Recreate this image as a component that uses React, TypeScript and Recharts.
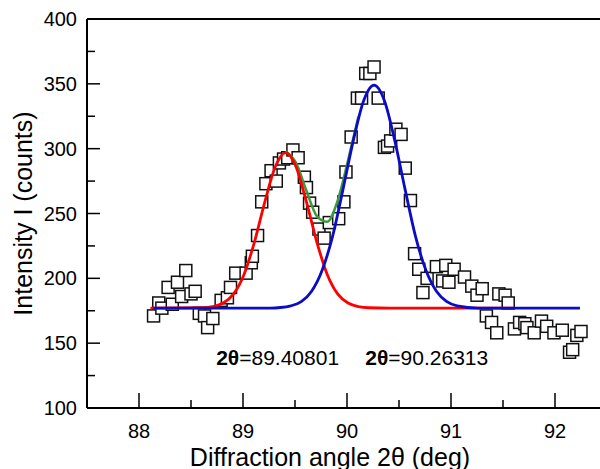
import React from 'react';
import { ComposedChart, Scatter, Line, XAxis, YAxis, ReferenceLine, ReferenceDot, Label } from 'recharts';

// measured intensity (open squares)
const pointX = [
  88.14, 88.19, 88.22, 88.28, 88.32, 88.37, 88.41, 88.45, 88.50, 88.54, 88.58, 88.63, 88.66, 88.71,
  88.79, 88.85, 88.88, 88.93, 89.03, 89.08, 89.09, 89.14, 89.18, 89.22, 89.27, 89.32, 89.35, 89.39,
  89.43, 89.48, 89.53, 89.59, 89.61, 89.64, 89.67, 89.73, 89.78, 89.83, 89.92, 89.97, 89.99, 90.04,
  90.10, 90.14, 90.18, 90.22, 90.26, 90.30, 90.36, 90.39, 90.42, 90.47, 90.52, 90.56, 90.61, 90.65,
  90.69, 90.73, 90.77, 90.86, 90.92, 90.95, 90.98, 91.03, 91.13, 91.20, 91.25, 91.30, 91.34, 91.39,
  91.44, 91.46, 91.52, 91.55, 91.61, 91.66, 91.71, 91.73, 91.80, 91.87, 91.92, 91.99, 92.07, 92.14,
  92.17, 92.21, 92.25,
];
const pointY = [
  171, 181, 177, 193, 180, 197, 186, 206, 188, 190, 173, 171, 162, 169,
  183, 185, 193, 204, 204, 212, 217, 233, 259, 273, 283, 275, 289, 292,
  293, 299, 293, 278, 270, 258, 251, 238, 231, 243, 246, 259, 282, 309,
  339, 339, 358, 358, 363, 339, 301, 302, 306, 315, 311, 285, 260, 219,
  207, 189, 200, 209, 198, 210, 197, 207, 201, 194, 187, 192, 171, 166,
  158, 188, 187, 181, 161, 166, 165, 162, 158, 167, 163, 158, 160, 143,
  145, 156, 159,
];

// fitted peak at 89.408 (red)
const redX = [88.11, 88.61, 88.71, 88.81, 88.91, 89.01, 89.11, 89.21, 89.31, 89.41, 89.51, 89.61, 89.71, 89.81, 89.91, 90.01, 90.11, 90.21, 90.41, 91.6];
const redY = [177, 177.3, 178.2, 181, 188, 203, 228, 259, 286, 297, 286, 259, 228, 203, 188, 181, 178.2, 177.3, 177, 177];

// fitted peak at 90.263 (blue)
const blueX = [88.14, 89.26, 89.36, 89.46, 89.56, 89.66, 89.76, 89.86, 89.96, 90.06, 90.16, 90.26, 90.36, 90.46, 90.56, 90.66, 90.76, 90.86, 90.96, 91.06, 91.26, 92.24];
const blueY = [177, 177.1, 177.5, 178.8, 182, 190, 206, 232, 268, 306, 337, 349, 337, 306, 268, 232, 206, 190, 182, 178.8, 177.1, 177];

// sum of both peaks (green)
const sumX = [89.41, 89.51, 89.61, 89.71, 89.81, 89.91, 90.01, 90.11];
const sumY = [298, 289, 267.5, 248, 243.6, 260, 291, 324.7];

const xTicks = [88, 88.5, 89, 89.5, 90, 90.5, 91, 91.5, 92];
const yTicks = [100, 125, 150, 175, 200, 225, 250, 275, 300, 325, 350, 375, 400];

const peakLabels = [
  { x: 89.333, y: 133, text: '=89.40801' },
  { x: 90.767, y: 133, text: '=90.26313' },
];

const font = '"Liberation Sans", Arial, sans-serif';

const toRows = (xs: number[], ys: number[]) => xs.map((x, i) => ({ x, y: ys[i] }));

const points = toRows(pointX, pointY);
const red = toRows(redX, redY);
const blue = toRows(blueX, blueY);
const sum = toRows(sumX, sumY);

const XTick = (props: any) => {
  const { x, y, payload } = props;
  const major = Number.isInteger(payload.value);
  return (
    <g>
      <line x1={x} x2={x} y1={y} y2={y - (major ? 15 : 8)} stroke="#000" strokeWidth={1.5} />
      {major && (
        <text x={x} y={y + 30} textAnchor="middle" fontSize={20} fontFamily={font} fill="#000">
          {payload.value}
        </text>
      )}
    </g>
  );
};

const YTick = (props: any) => {
  const { x, y, payload } = props;
  const major = payload.value % 50 === 0;
  return (
    <g>
      <line x1={x} x2={x + (major ? 13 : 8)} y1={y} y2={y} stroke="#000" strokeWidth={1.5} />
      {major && (
        <text x={x - 10} y={y + 7} textAnchor="end" fontSize={20} fontFamily={font} fill="#000">
          {payload.value}
        </text>
      )}
    </g>
  );
};

const Square = (props: any) => {
  const { cx, cy } = props;
  return <rect x={cx - 6} y={cy - 6} width={12} height={12} fill="#fff" stroke="#111" strokeWidth={1.5} />;
};

export default function App() {
  return (
    <div style={{ position: 'absolute', left: 0, top: 0, width: 600, height: 469, overflow: 'hidden', background: '#fff' }}>
      <ComposedChart width={607} height={469} margin={{ top: 19, right: 0, left: 0, bottom: 0 }}>
        <XAxis
          type="number"
          dataKey="x"
          domain={[87.5, 92.5]}
          allowDataOverflow
          ticks={xTicks}
          interval={0}
          tick={<XTick />}
          tickLine={false}
          tickSize={0}
          tickMargin={0}
          height={61}
          axisLine={{ stroke: '#000', strokeWidth: 2 }}
        >
          <Label
            value="Diffraction angle 2θ (deg)"
            position="insideBottom"
            offset={3}
            dx={-17}
            style={{ fontSize: 25, fontFamily: font, fill: '#000' }}
          />
        </XAxis>
        <YAxis
          type="number"
          dataKey="y"
          domain={[100, 400]}
          allowDataOverflow
          ticks={yTicks}
          interval={0}
          tick={<YTick />}
          tickLine={false}
          tickSize={0}
          tickMargin={0}
          width={87}
          axisLine={{ stroke: '#000', strokeWidth: 2 }}
        >
          <Label
            value="Intensity I (counts)"
            angle={-90}
            position="insideLeft"
            offset={23}
            style={{ fontSize: 25, fontFamily: font, fill: '#000', textAnchor: 'middle' }}
          />
        </YAxis>
        <ReferenceLine y={400} stroke="#000" strokeWidth={2} />
        <Scatter data={points} shape={<Square />} isAnimationActive={false} zIndex={300} />
        <Line data={sum} dataKey="y" type="monotone" stroke="#3c9a3c" strokeWidth={2.5} dot={false} isAnimationActive={false} zIndex={1000} />
        <Line data={red} dataKey="y" type="monotone" stroke="#ff0000" strokeWidth={2.8} dot={false} isAnimationActive={false} zIndex={1001} />
        <Line data={blue} dataKey="y" type="monotone" stroke="#0c0cc4" strokeWidth={2.8} dot={false} isAnimationActive={false} zIndex={1002} />
        {peakLabels.map((p) => (
          <ReferenceDot
            key={p.text}
            x={p.x}
            y={p.y}
            r={0}
            shape={(s: any) => (
              <text x={s.cx} y={s.cy} textAnchor="middle" fontSize={21} fontFamily={font} fill="#000">
                <tspan fontWeight="bold">2θ</tspan>
                {p.text}
              </text>
            )}
          />
        ))}
      </ComposedChart>
    </div>
  );
}
